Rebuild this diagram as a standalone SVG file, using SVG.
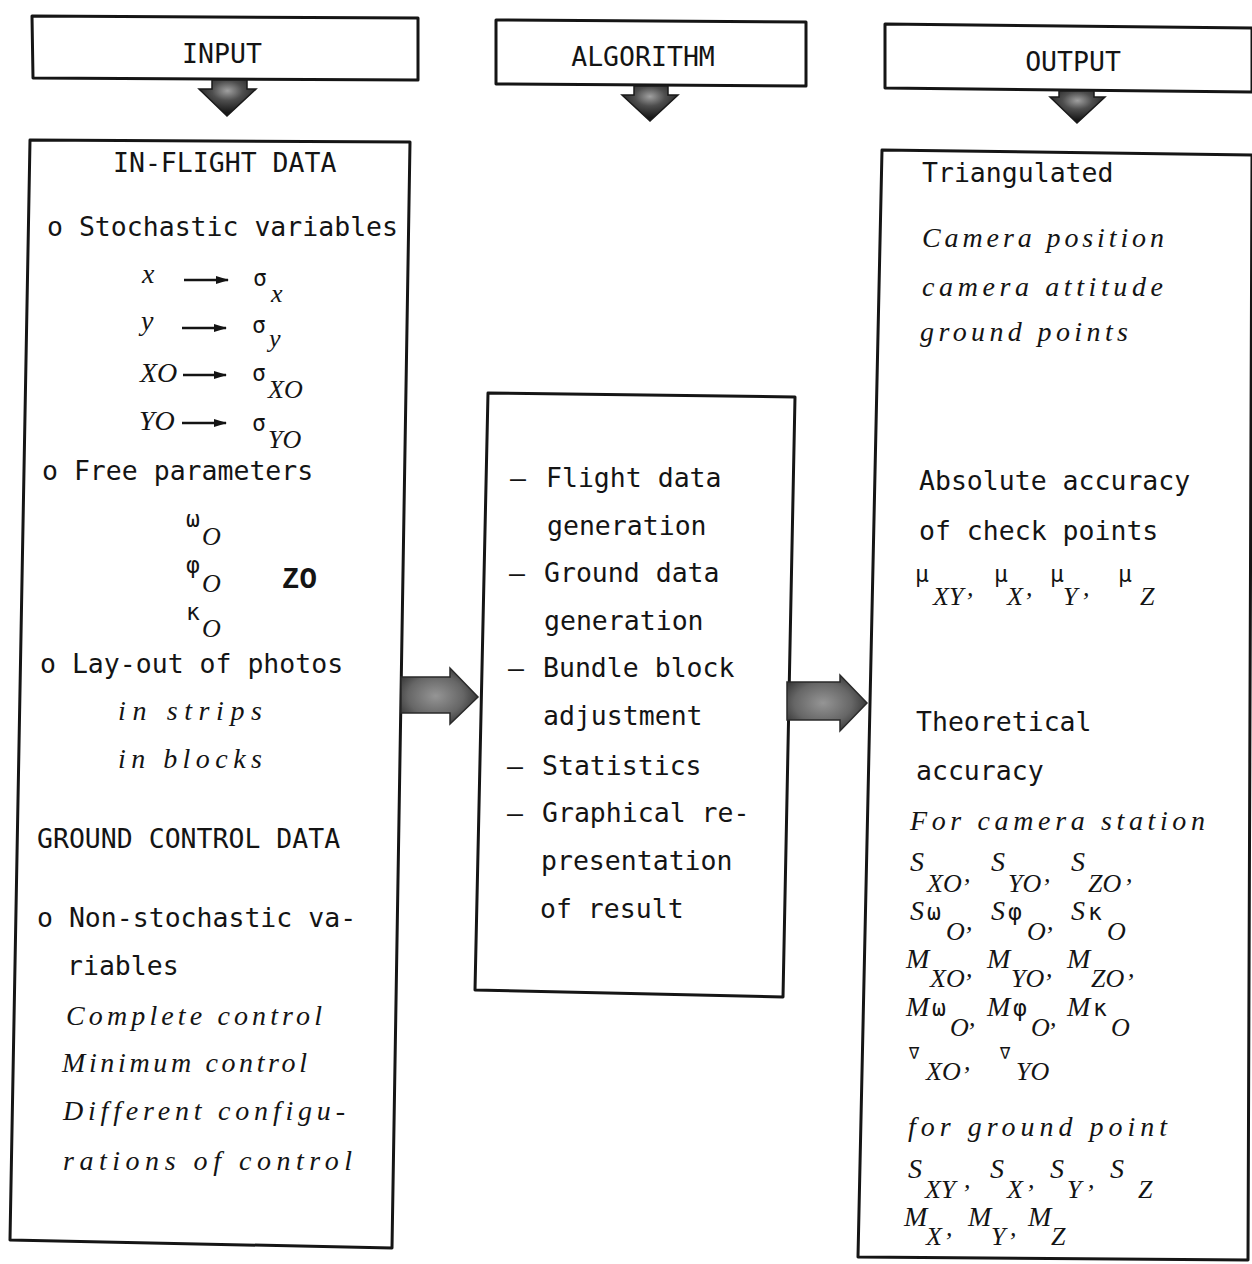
<svg xmlns="http://www.w3.org/2000/svg" width="1252" height="1264" viewBox="0 0 1252 1264">
<style>
.u{font-family:"DejaVu Sans Mono","Liberation Mono",monospace;font-size:26.5px;fill:#141414}
.i{font-family:"Liberation Serif","DejaVu Serif",serif;font-style:italic;font-size:28px;fill:#141414}
.s{font-family:"Liberation Serif","DejaVu Serif",serif;font-style:italic;font-size:26px;fill:#141414}
.g{font-family:"DejaVu Sans Mono","Liberation Mono",monospace;font-size:23px;fill:#141414}
.zb{font-family:"Liberation Mono",monospace;font-weight:bold;font-size:29px;fill:#141414}
.box{fill:#fff;stroke:#151515;stroke-width:3;stroke-linejoin:round}
.dn{fill:url(#dg);stroke:#1a1a1a;stroke-width:1.5}
.rt{fill:url(#hg);stroke:#2a2a2a;stroke-width:1.5}
.sa{stroke:#141414;stroke-width:2.5;marker-end:url(#ah)}
</style>
<defs>
<radialGradient id="dg" cx="50%" cy="30%" r="60%">
<stop offset="0" stop-color="#a0a0a0"/>
<stop offset="0.45" stop-color="#4e4e4e"/>
<stop offset="1" stop-color="#181818"/>
</radialGradient>
<radialGradient id="hg" cx="45%" cy="50%" r="60%">
<stop offset="0" stop-color="#959595"/>
<stop offset="0.6" stop-color="#666"/>
<stop offset="1" stop-color="#2e2e2e"/>
</radialGradient>
<marker id="ah" markerWidth="14" markerHeight="10" refX="12" refY="5" orient="auto" markerUnits="userSpaceOnUse">
<path d="M0,1 L13,5 L0,9 Z" fill="#141414"/>
</marker>
</defs>

<g id="input-header">
<polygon class="box" points="32,16 418,18 418,80 33,78"/>
<text class="u" x="222" y="63" text-anchor="middle">INPUT</text>
</g>
<g id="algorithm-header">
<polygon class="box" points="496,20 806,22 806,86 496,84"/>
<text class="u" x="643" y="66" text-anchor="middle">ALGORITHM</text>
</g>
<g id="output-header">
<polygon class="box" points="885,24 1252,28 1252,92 885,88"/>
<text class="u" x="1073" y="71" text-anchor="middle">OUTPUT</text>
</g>

<g id="input-box">
<polygon class="box" points="30,140 410,142 392,1248 10,1240"/>
<text class="u" x="113" y="172">IN-FLIGHT DATA</text>
<text class="u" x="47" y="236">o Stochastic variables</text>
<text class="i" x="142" y="283">x</text>
<line class="sa" x1="184" y1="280" x2="228" y2="280"/>
<text class="g" x="253" y="286">σ</text>
<text class="s" x="271" y="302">x</text>
<text class="i" x="141" y="330">y</text>
<line class="sa" x1="182" y1="328" x2="226" y2="328"/>
<text class="g" x="252" y="333">σ</text>
<text class="s" x="269" y="347">y</text>
<text class="i" x="140" y="382">XO</text>
<line class="sa" x1="183" y1="375" x2="226" y2="375"/>
<text class="g" x="252" y="381">σ</text>
<text class="s" x="268" y="398">XO</text>
<text class="i" x="139" y="430">YO</text>
<line class="sa" x1="182" y1="423" x2="226" y2="423"/>
<text class="g" x="252" y="431">σ</text>
<text class="s" x="268" y="448">YO</text>
<text class="u" x="42" y="480">o Free parameters</text>
<text class="g" x="186" y="527">ω</text>
<text class="s" x="202" y="545">O</text>
<text class="g" x="186" y="573">φ</text>
<text class="s" x="202" y="592">O</text>
<text class="zb" x="282" y="588">ZO</text>
<text class="g" x="186" y="620">κ</text>
<text class="s" x="202" y="637">O</text>
<text class="u" x="40" y="673">o Lay-out of photos</text>
<text class="i" x="118" y="720" textLength="144" lengthAdjust="spacing">in strips</text>
<text class="i" x="118" y="768" textLength="144" lengthAdjust="spacing">in blocks</text>
<text class="u" x="37" y="848">GROUND CONTROL DATA</text>
<text class="u" x="37" y="927">o Non-stochastic va-</text>
<text class="u" x="67" y="975">riables</text>
<text class="i" x="66" y="1025" textLength="256" lengthAdjust="spacing">Complete control</text>
<text class="i" x="62" y="1072" textLength="245" lengthAdjust="spacing">Minimum control</text>
<text class="i" x="63" y="1120" textLength="282" lengthAdjust="spacing">Different configu-</text>
<text class="i" x="63" y="1170" textLength="289" lengthAdjust="spacing">rations of control</text>
</g>

<g id="algorithm-box">
<polygon class="box" points="488,393 795,397 783,997 475,990"/>
<text class="u" x="510" y="487">—</text><text class="u" x="546" y="487">Flight data</text>
<text class="u" x="547" y="535">generation</text>
<text class="u" x="509" y="582">—</text><text class="u" x="544" y="582">Ground data</text>
<text class="u" x="544" y="630">generation</text>
<text class="u" x="508" y="677">—</text><text class="u" x="543" y="677">Bundle block</text>
<text class="u" x="543" y="725">adjustment</text>
<text class="u" x="507" y="775">—</text><text class="u" x="542" y="775">Statistics</text>
<text class="u" x="507" y="822">—</text><text class="u" x="542" y="822">Graphical re-</text>
<text class="u" x="541" y="870">presentation</text>
<text class="u" x="540" y="918">of result</text>
</g>

<g id="output-box">
<polygon class="box" points="882,150 1252,155 1248,1260 858,1257"/>
<text class="u" x="922" y="182">Triangulated</text>
<text class="i" x="922" y="247" textLength="242" lengthAdjust="spacing">Camera position</text>
<text class="i" x="922" y="296" textLength="241" lengthAdjust="spacing">camera attitude</text>
<text class="i" x="920" y="341" textLength="208" lengthAdjust="spacing">ground points</text>
<text class="u" x="919" y="490">Absolute accuracy</text>
<text class="u" x="919" y="540">of check points</text>
<text class="g" x="915" y="582">μ</text><text class="s" x="933" y="605">XY</text><text class="s" x="967" y="596">,</text>
<text class="g" x="994" y="582">μ</text><text class="s" x="1007" y="605">X</text><text class="s" x="1026" y="596">,</text>
<text class="g" x="1050" y="582">μ</text><text class="s" x="1063" y="605">Y</text><text class="s" x="1083" y="596">,</text>
<text class="g" x="1118" y="582">μ</text><text class="s" x="1140" y="605">Z</text>
<text class="u" x="916" y="731">Theoretical</text>
<text class="u" x="916" y="780">accuracy</text>
<text class="i" x="910" y="830" textLength="295" lengthAdjust="spacing">For camera station</text>

<text class="i" x="910" y="871">S</text><text class="s" x="927" y="892">XO</text><text class="s" x="964" y="882">,</text>
<text class="i" x="991" y="871">S</text><text class="s" x="1008" y="892">YO</text><text class="s" x="1044" y="882">,</text>
<text class="i" x="1071" y="871">S</text><text class="s" x="1088" y="892">ZO</text><text class="s" x="1126" y="882">,</text>

<text class="i" x="910" y="920">S</text><text class="g" x="927" y="920">ω</text><text class="s" x="946" y="940">O</text><text class="s" x="966" y="930">,</text>
<text class="i" x="991" y="920">S</text><text class="g" x="1008" y="920">φ</text><text class="s" x="1027" y="940">O</text><text class="s" x="1047" y="930">,</text>
<text class="i" x="1071" y="920">S</text><text class="g" x="1088" y="920">κ</text><text class="s" x="1107" y="940">O</text>

<text class="i" x="906" y="968">M</text><text class="s" x="930" y="987">XO</text><text class="s" x="966" y="977">,</text>
<text class="i" x="987" y="968">M</text><text class="s" x="1011" y="987">YO</text><text class="s" x="1046" y="977">,</text>
<text class="i" x="1067" y="968">M</text><text class="s" x="1091" y="987">ZO</text><text class="s" x="1128" y="977">,</text>

<text class="i" x="906" y="1016">M</text><text class="g" x="932" y="1016">ω</text><text class="s" x="950" y="1036">O</text><text class="s" x="969" y="1026">,</text>
<text class="i" x="987" y="1016">M</text><text class="g" x="1013" y="1016">φ</text><text class="s" x="1031" y="1036">O</text><text class="s" x="1050" y="1026">,</text>
<text class="i" x="1067" y="1016">M</text><text class="g" x="1093" y="1016">κ</text><text class="s" x="1111" y="1036">O</text>

<text class="g" x="909" y="1059" style="font-size:17px">∇</text><text class="s" x="926" y="1080">XO</text><text class="s" x="964" y="1070">,</text>
<text class="g" x="1000" y="1059" style="font-size:17px">∇</text><text class="s" x="1016" y="1080">YO</text>

<text class="i" x="908" y="1136" textLength="259" lengthAdjust="spacing">for ground point</text>

<text class="i" x="908" y="1178">S</text><text class="s" x="925" y="1198">XY</text><text class="s" x="964" y="1188">,</text>
<text class="i" x="990" y="1178">S</text><text class="s" x="1007" y="1198">X</text><text class="s" x="1028" y="1188">,</text>
<text class="i" x="1050" y="1178">S</text><text class="s" x="1067" y="1198">Y</text><text class="s" x="1088" y="1188">,</text>
<text class="i" x="1110" y="1178">S</text><text class="s" x="1138" y="1198">Z</text>

<text class="i" x="904" y="1226">M</text><text class="s" x="926" y="1245">X</text><text class="s" x="946" y="1236">,</text>
<text class="i" x="968" y="1226">M</text><text class="s" x="991" y="1245">Y</text><text class="s" x="1010" y="1236">,</text>
<text class="i" x="1028" y="1226">M</text><text class="s" x="1051" y="1245">Z</text>
</g>

<g id="connectors">
<polygon class="dn" points="212,80 247,80 247,89 256,89 227,116 199,89 212,89"/>
<polygon class="dn" points="634,86 668,86 668,95 678,95 650,121 622,95 634,95"/>
<polygon class="dn" points="1059,91 1094,91 1094,97 1105,97 1077,123 1050,97 1059,97"/>
<polygon class="rt" points="401,677 450,677 450,668 478,697 450,724 450,713 401,713"/>
<polygon class="rt" points="787,682 840,682 840,675 867,703 840,731 840,720 787,720"/>
</g>
</svg>
